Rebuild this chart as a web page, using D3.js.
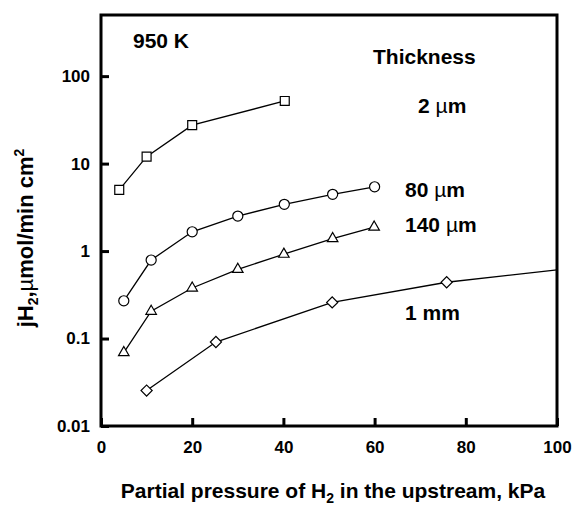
<!DOCTYPE html>
<html>
<head>
<meta charset="utf-8">
<script src="https://cdn.jsdelivr.net/npm/d3@7"></script>
<style>
  html, body { margin: 0; padding: 0; background: #fff; }
  svg { display: block; font-family: Arial, "Liberation Sans", Helvetica, sans-serif; }
</style>
</head>
<body>
<svg id="chart" width="573" height="506"></svg>
<script>
// Hydrogen flux through membranes of different thickness at 950 K
const p2um   = [4, 10, 20, 40.3];
const j2um   = [5.0, 12.0, 27.5, 52];
const p80um  = [5, 11, 20, 30, 40.2, 50.8, 60];
const j80um  = [0.27, 0.79, 1.66, 2.51, 3.42, 4.45, 5.43];
const p140um = [5, 11, 20, 30, 40.1, 50.8, 59.9];
const j140um = [0.069, 0.205, 0.378, 0.618, 0.92, 1.39, 1.88];
const p1mm   = [10, 25.2, 50.7, 75.8];
const j1mm   = [0.0254, 0.0912, 0.259, 0.44];
// trend line of the 1 mm series continued to the right edge
const p1mmTrend = [75.8, 100];
const j1mmTrend = [0.44, 0.61];

const xTicks = [0, 20, 40, 60, 80, 100];
const yTicks = [0.01, 0.1, 1, 10, 100];

const svg = d3.select("#chart");
const plotLeft = 101, plotRight = 557, plotTop = 15, plotBottom = 426;

const x = d3.scaleLinear().domain([0, 100]).range([plotLeft, plotRight]);
const y = d3.scaleLog().domain([0.01, 500]).range([plotBottom, plotTop]);

// axes with inward ticks
const xAxis = d3.axisBottom(x).tickValues(xTicks).tickFormat(d3.format("d"))
  .tickSize(-8).tickPadding(15);
const gx = svg.append("g").attr("transform", `translate(0,${plotBottom})`).call(xAxis);
gx.select(".domain").remove();
gx.selectAll(".tick line").attr("stroke", "#000").attr("stroke-width", 3);
gx.selectAll(".tick text").attr("fill", "#000").style("font-size", "17px").style("font-weight", "bold");

const yAxis = d3.axisLeft(y).tickValues(yTicks).tickFormat(d => String(d))
  .tickSize(-8).tickPadding(11);
const gy = svg.append("g").attr("transform", `translate(${plotLeft},0)`).call(yAxis);
gy.select(".domain").remove();
gy.selectAll(".tick line").attr("stroke", "#000").attr("stroke-width", 3);
gy.selectAll(".tick text").attr("fill", "#000").style("font-size", "17px").style("font-weight", "bold");

// plot frame
svg.append("rect")
  .attr("x", plotLeft).attr("y", plotTop)
  .attr("width", plotRight - plotLeft).attr("height", plotBottom - plotTop)
  .attr("fill", "none").attr("stroke", "#000").attr("stroke-width", 3);

const line = d3.line().x(d => x(d[0])).y(d => y(d[1]));
const zip = (a, b) => a.map((v, i) => [v, b[i]]);

const series = [
  { pts: zip(p2um, j2um), sym: d3.symbolSquare, size: 80, rot: 0 },
  { pts: zip(p80um, j80um), sym: d3.symbolCircle, size: 80, rot: 0 },
  { pts: zip(p140um, j140um), sym: d3.symbolTriangle, size: 48, rot: 0 },
  { pts: zip(p1mm, j1mm), sym: d3.symbolSquare, size: 62, rot: 45 }
];

svg.append("path")
  .attr("d", line(zip(p1mmTrend, j1mmTrend)))
  .attr("fill", "none").attr("stroke", "#000").attr("stroke-width", 1.3);

series.forEach(s => {
  svg.append("path")
    .attr("d", line(s.pts))
    .attr("fill", "none").attr("stroke", "#000").attr("stroke-width", 1.3);
  svg.selectAll(null).data(s.pts).enter().append("path")
    .attr("d", d3.symbol().type(s.sym).size(s.size))
    .attr("transform", d => `translate(${x(d[0])},${y(d[1])}) rotate(${s.rot})`)
    .attr("fill", "#fff").attr("stroke", "#000").attr("stroke-width", 1.2);
});

// annotations
function label(tx, ty, parts, size) {
  const t = svg.append("text").attr("x", tx).attr("y", ty)
    .style("font-size", size + "px").style("font-weight", "bold").attr("fill", "#000");
  parts.forEach(p => {
    const ts = t.append("tspan").text(p.t);
    if (p.normal) ts.style("font-weight", "normal");
  });
  return t;
}
label(133, 48, [{ t: "950 K" }], 21);
label(373, 64, [{ t: "Thickness" }], 21);
label(418, 113, [{ t: "2 " }, { t: "\u00b5", normal: true }, { t: "m" }], 21);
label(405, 197, [{ t: "80 " }, { t: "\u00b5", normal: true }, { t: "m" }], 21);
label(405, 232, [{ t: "140 " }, { t: "\u00b5", normal: true }, { t: "m" }], 21);
label(405, 320, [{ t: "1 mm" }], 21);

// x-axis title
const xt = svg.append("text").attr("x", 333).attr("y", 498)
  .attr("text-anchor", "middle").style("font-size", "21px").style("font-weight", "bold");
xt.append("tspan").text("Partial pressure of H");
xt.append("tspan").text("2").attr("dy", 5).style("font-size", "14px");
xt.append("tspan").text(" in the upstream, kPa").attr("dy", -5);

// y-axis title
const yt = svg.append("text")
  .attr("transform", "translate(33,238) rotate(-90)")
  .attr("text-anchor", "middle").style("font-size", "22px").style("font-weight", "bold");
yt.append("tspan").text("jH");
yt.append("tspan").text("2").attr("dy", 5).style("font-size", "14px");
yt.append("tspan").text(",").attr("dy", -5);
yt.append("tspan").text("\u00b5").style("font-weight", "normal");
yt.append("tspan").text("mol/min cm");
yt.append("tspan").text("2").attr("dy", -9).style("font-size", "14px");
</script>
</body>
</html>
